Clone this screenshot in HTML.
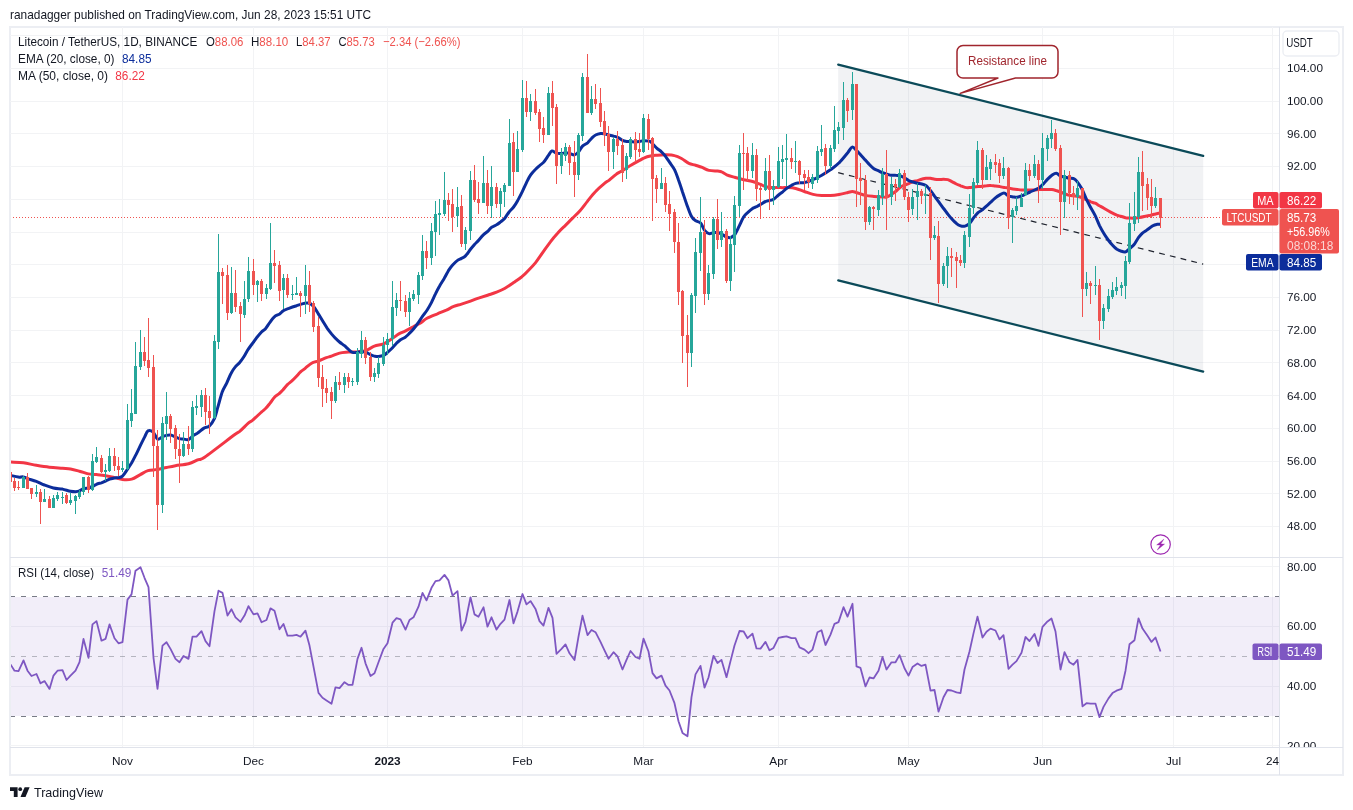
<!DOCTYPE html>
<html lang="en"><head><meta charset="utf-8"><title>LTCUSDT chart</title>
<style>html,body{margin:0;padding:0;background:#fff}body{width:1353px;height:810px;overflow:hidden}svg{display:block}text{font-family:"Liberation Sans", sans-serif}</style></head><body>
<svg width="1353" height="810" viewBox="0 0 1353 810">
<rect width="1353" height="810" fill="#fff"/>
<text x="10" y="18.9" font-size="13.4" fill="#131722" textLength="361" lengthAdjust="spacingAndGlyphs">ranadagger published on TradingView.com, Jun 28, 2023 15:51 UTC</text>
<rect x="10" y="27" width="1333" height="748" fill="#fff" stroke="#eceef3" stroke-width="2"/>
<defs><clipPath id="cm"><rect x="11" y="28" width="1268" height="529"/></clipPath><clipPath id="cr"><rect x="11" y="558" width="1268" height="189"/></clipPath><clipPath id="ca"><rect x="1280" y="28" width="62" height="529"/></clipPath><clipPath id="cb"><rect x="1280" y="558" width="62" height="189"/></clipPath></defs>
<g stroke="#f2f3f5" stroke-width="1" shape-rendering="crispEdges">
<line x1="10" x2="1279" y1="526.5" y2="526.5"/>
<line x1="10" x2="1279" y1="493.5" y2="493.5"/>
<line x1="10" x2="1279" y1="461.5" y2="461.5"/>
<line x1="10" x2="1279" y1="428.5" y2="428.5"/>
<line x1="10" x2="1279" y1="395.5" y2="395.5"/>
<line x1="10" x2="1279" y1="362.5" y2="362.5"/>
<line x1="10" x2="1279" y1="330.5" y2="330.5"/>
<line x1="10" x2="1279" y1="297.5" y2="297.5"/>
<line x1="10" x2="1279" y1="264.5" y2="264.5"/>
<line x1="10" x2="1279" y1="232.5" y2="232.5"/>
<line x1="10" x2="1279" y1="199.5" y2="199.5"/>
<line x1="10" x2="1279" y1="166.5" y2="166.5"/>
<line x1="10" x2="1279" y1="133.5" y2="133.5"/>
<line x1="10" x2="1279" y1="101.5" y2="101.5"/>
<line x1="10" x2="1279" y1="68.5" y2="68.5"/>
<line x1="10" x2="1279" y1="35.5" y2="35.5"/>
<line x1="10" x2="1279" y1="566.5" y2="566.5"/>
<line x1="10" x2="1279" y1="626.5" y2="626.5"/>
<line x1="10" x2="1279" y1="686.5" y2="686.5"/>
<line x1="10" x2="1279" y1="745.5" y2="745.5"/>
<line x1="122.5" x2="122.5" y1="27" y2="747"/>
<line x1="253.5" x2="253.5" y1="27" y2="747"/>
<line x1="387.5" x2="387.5" y1="27" y2="747"/>
<line x1="522.5" x2="522.5" y1="27" y2="747"/>
<line x1="643.5" x2="643.5" y1="27" y2="747"/>
<line x1="778.5" x2="778.5" y1="27" y2="747"/>
<line x1="908.5" x2="908.5" y1="27" y2="747"/>
<line x1="1042.5" x2="1042.5" y1="27" y2="747"/>
<line x1="1173.5" x2="1173.5" y1="27" y2="747"/>
<line x1="1272.5" x2="1272.5" y1="27" y2="747"/>
</g>
<g stroke="#e0e3eb" stroke-width="1" shape-rendering="crispEdges"><line x1="10" x2="1343" y1="557.5" y2="557.5"/><line x1="10" x2="1343" y1="747.5" y2="747.5"/><line x1="1279.5" x2="1279.5" y1="27" y2="775"/></g>
<g clip-path="url(#cm)">
<polygon points="838.2,64.6 1203.2,155.9 1203.2,371.6 838.2,280.4" fill="#787d91" fill-opacity="0.1"/>
<line x1="838.2" y1="172.7" x2="1203.2" y2="264.1" stroke="#1e222d" stroke-width="1.2" stroke-dasharray="5.8 5.23"/>
<line x1="10" x2="1279" y1="217.5" y2="217.5" stroke="#ef5350" stroke-width="1" stroke-dasharray="1 2" shape-rendering="crispEdges"/>
<path d="M8.0,461.9 C8.4,461.9 8.1,461.9 10.6,462.0 C13.2,462.2 19.1,462.2 23.4,462.8 C27.6,463.3 31.9,464.6 36.3,465.3 C40.6,466.0 44.9,466.7 49.3,467.2 C53.7,467.7 59.0,468.0 62.5,468.3 C66.0,468.6 67.6,468.5 70.5,469.0 C73.3,469.5 76.5,470.4 79.5,471.2 C82.5,472.0 85.6,473.3 88.4,473.9 C91.2,474.5 93.5,474.3 96.4,474.6 C99.3,474.9 102.6,475.2 105.6,475.7 C108.6,476.2 111.7,477.0 114.5,477.6 C117.3,478.2 119.6,479.3 122.5,479.5 C125.3,479.8 128.7,479.9 131.7,479.1 C134.6,478.3 137.5,476.0 140.3,474.6 C143.0,473.2 145.1,471.5 148.0,470.6 C150.9,469.8 154.5,470.0 157.6,469.4 C160.7,468.9 163.5,468.1 166.5,467.5 C169.4,466.9 171.7,466.4 175.4,465.7 C179.0,465.1 184.9,464.8 188.6,463.8 C192.3,462.8 194.9,461.0 197.6,459.8 C200.3,458.7 198.9,461.0 205.0,456.9 C211.1,452.7 228.3,439.3 234.1,435.0 C239.9,430.7 237.3,433.3 239.7,431.3 C242.1,429.3 246.1,425.0 248.3,423.1 C250.5,421.3 250.5,422.0 252.7,420.2 C254.9,418.3 259.3,414.0 261.5,412.0 C263.7,410.1 264.3,409.8 265.8,408.3 C267.2,406.9 268.6,405.0 270.1,403.1 C271.5,401.3 273.0,398.8 274.5,397.2 C276.0,395.6 277.9,394.8 279.3,393.5 C280.7,392.3 281.6,391.3 283.0,389.8 C284.3,388.3 285.9,386.1 287.4,384.6 C288.9,383.1 290.4,382.3 291.9,380.9 C293.3,379.6 294.9,378.0 296.3,376.5 C297.7,375.0 299.0,373.4 300.4,372.0 C301.9,370.7 303.7,369.6 305.2,368.3 C306.7,367.1 308.3,365.6 309.6,364.6 C311.0,363.6 311.9,363.0 313.3,362.4 C314.8,361.8 316.3,361.7 318.5,360.9 C320.7,360.1 324.3,358.4 326.4,357.6 C328.6,356.8 329.3,356.9 331.5,356.1 C333.7,355.4 336.6,353.8 339.5,353.1 C342.3,352.5 345.5,352.4 348.5,352.1 C351.5,351.9 354.6,351.9 357.4,351.7 C360.2,351.4 362.7,351.5 365.6,350.6 C368.4,349.7 371.5,347.3 374.4,346.2 C377.4,345.0 380.5,345.1 383.5,343.8 C386.5,342.5 390.0,340.0 392.5,338.3 C395.1,336.7 396.7,335.1 398.9,333.9 C401.1,332.7 403.1,332.2 405.6,330.9 C408.0,329.7 411.4,327.7 413.7,326.5 C416.0,325.2 417.4,324.9 419.6,323.5 C421.9,322.2 424.1,319.9 427.0,318.3 C430.0,316.7 434.2,315.2 437.4,313.9 C440.6,312.5 443.6,311.4 446.3,310.2 C449.0,308.9 451.3,307.4 453.8,306.4 C456.3,305.4 458.7,305.0 461.5,304.1 C464.3,303.2 467.7,302.1 470.5,301.1 C473.4,300.1 475.7,299.1 478.5,298.1 C481.4,297.2 484.5,296.2 487.6,295.2 C490.6,294.2 493.8,293.3 496.6,292.2 C499.4,291.1 501.8,290.1 504.6,288.5 C507.4,286.9 510.7,284.6 513.6,282.6 C516.5,280.6 519.5,278.6 521.9,276.7 C524.3,274.7 525.9,273.1 528.1,270.7 C530.4,268.4 533.1,265.7 535.6,262.6 C538.0,259.5 540.5,255.7 543.0,252.2 C545.4,248.8 547.9,245.1 550.4,241.9 C552.8,238.6 555.3,235.7 557.8,233.0 C560.2,230.2 562.7,228.0 565.2,225.6 C567.7,223.1 570.1,220.6 572.6,218.1 C575.1,215.7 577.5,213.6 580.0,210.7 C582.5,207.9 585.0,204.3 587.6,201.1 C590.1,197.9 592.7,194.4 595.6,191.5 C598.4,188.5 602.2,185.3 604.5,183.4 C606.9,181.4 607.6,181.4 609.6,179.8 C611.6,178.3 614.6,175.5 616.5,174.1 C618.5,172.7 618.9,172.7 621.3,171.3 C623.6,169.9 627.5,167.3 630.5,165.5 C633.6,163.7 637.2,161.7 639.6,160.4 C641.9,159.2 642.6,158.5 644.4,157.8 C646.2,157.0 648.4,156.4 650.4,156.0 C652.4,155.6 653.9,155.5 656.4,155.3 C659.0,155.1 662.5,154.8 665.5,154.8 C668.5,154.9 671.9,154.9 674.5,155.6 C677.2,156.2 679.1,157.2 681.5,158.5 C683.9,159.8 686.5,162.3 688.9,163.4 C691.2,164.5 693.3,164.5 695.6,165.2 C697.8,165.9 700.0,166.5 702.2,167.4 C704.4,168.3 706.3,169.8 708.9,170.4 C711.5,171.0 715.5,170.9 717.6,171.1 C719.8,171.4 720.1,171.2 721.6,171.9 C723.1,172.5 724.5,173.9 726.7,174.8 C728.8,175.7 731.9,176.5 734.7,177.3 C737.5,178.1 740.6,179.0 743.6,179.7 C746.5,180.4 749.8,180.7 752.6,181.5 C755.4,182.3 758.4,183.6 760.6,184.4 C762.8,185.3 763.5,186.1 765.6,186.7 C767.8,187.2 771.5,187.6 773.6,187.7 C775.7,187.8 776.8,187.5 778.3,187.5 C779.8,187.5 781.0,187.7 782.7,187.7 C784.3,187.7 786.1,187.3 788.3,187.5 C790.5,187.6 793.0,187.8 795.7,188.5 C798.4,189.2 801.5,190.5 804.4,191.5 C807.3,192.5 810.2,193.8 813.1,194.4 C816.0,195.1 818.9,195.3 821.8,195.4 C824.7,195.6 827.5,195.6 830.4,195.4 C833.3,195.3 836.2,194.9 839.1,194.4 C842.0,194.0 845.7,193.0 847.8,192.5 C850.0,192.0 850.7,191.5 852.2,191.5 C853.6,191.5 854.3,191.8 856.5,192.5 C858.7,193.1 862.3,194.8 865.2,195.4 C868.1,196.1 871.0,196.2 873.9,196.4 C876.8,196.7 880.4,196.9 882.6,197.0 C884.8,197.1 885.5,197.4 886.9,197.0 C888.4,196.6 889.8,195.4 891.3,194.4 C892.7,193.5 894.2,192.6 895.6,191.5 C897.1,190.3 898.5,188.6 900.0,187.5 C901.4,186.5 902.9,185.8 904.3,185.2 C905.8,184.5 907.2,184.2 908.7,183.6 C910.1,183.0 911.6,182.1 913.0,181.6 C914.5,181.1 915.9,181.0 917.4,180.6 C918.8,180.2 920.3,179.6 921.7,179.2 C923.2,178.8 924.6,178.4 926.0,178.2 C927.5,178.1 928.9,178.1 930.4,178.2 C931.8,178.4 933.3,179.0 934.7,179.2 C936.2,179.5 937.6,179.6 939.1,179.6 C940.5,179.6 942.0,179.2 943.4,179.2 C944.9,179.2 946.4,179.2 947.8,179.6 C949.2,180.0 950.5,180.9 951.9,181.6 C953.3,182.3 954.8,183.3 956.3,184.0 C957.7,184.7 959.2,185.2 960.6,185.8 C962.1,186.4 963.6,187.1 965.0,187.4 C966.5,187.7 967.9,187.7 969.4,187.6 C970.8,187.6 972.3,187.2 973.7,187.0 C975.2,186.9 976.6,186.8 978.0,186.6 C979.5,186.5 980.9,186.4 982.4,186.2 C983.8,186.1 985.3,185.8 986.7,185.7 C988.2,185.5 989.6,185.4 991.1,185.5 C992.5,185.5 994.0,185.9 995.4,186.0 C996.9,186.2 998.3,186.4 999.8,186.6 C1001.2,186.9 1002.7,187.2 1004.1,187.4 C1005.6,187.7 1007.0,187.8 1008.5,188.0 C1009.9,188.3 1011.4,188.8 1012.8,189.0 C1014.3,189.2 1015.7,189.2 1017.2,189.4 C1018.6,189.6 1020.1,189.9 1021.5,190.0 C1023.0,190.1 1024.4,190.0 1025.9,190.0 C1027.3,190.0 1028.7,190.0 1030.2,190.0 C1031.6,190.0 1033.1,190.1 1034.5,190.0 C1036.0,189.9 1037.4,189.7 1038.9,189.6 C1040.3,189.5 1041.8,189.4 1043.2,189.4 C1044.7,189.4 1046.1,189.4 1047.6,189.4 C1049.0,189.4 1050.5,189.4 1051.9,189.6 C1053.4,189.8 1054.8,190.2 1056.3,190.6 C1057.7,191.0 1059.2,191.4 1060.6,192.0 C1062.1,192.5 1063.5,193.4 1065.0,194.0 C1066.4,194.5 1067.9,195.0 1069.3,195.3 C1070.8,195.7 1072.2,195.7 1073.7,195.9 C1075.1,196.1 1076.6,196.2 1078.0,196.5 C1079.4,196.8 1080.9,197.3 1082.3,197.9 C1083.8,198.5 1085.3,199.2 1086.7,199.9 C1088.1,200.5 1089.4,201.3 1090.8,201.9 C1092.3,202.4 1093.7,202.6 1095.2,203.2 C1096.6,203.9 1098.1,205.0 1099.5,205.8 C1101.0,206.6 1102.4,207.3 1103.9,208.2 C1105.3,209.0 1106.8,209.9 1108.2,210.7 C1109.7,211.6 1111.1,212.4 1112.6,213.1 C1114.0,213.8 1115.4,214.5 1116.9,215.1 C1118.4,215.6 1120.2,216.1 1121.7,216.5 C1123.1,216.9 1124.3,217.4 1125.6,217.7 C1126.9,217.9 1128.3,217.9 1129.7,218.0 C1131.2,218.1 1132.8,218.2 1134.4,218.1 C1136.0,218.1 1137.7,217.8 1139.4,217.5 C1141.0,217.3 1142.7,216.9 1144.3,216.5 C1146.0,216.2 1147.6,215.9 1149.3,215.6 C1150.9,215.2 1152.4,214.8 1154.2,214.3 C1156.0,213.9 1159.1,213.2 1160.1,213.0" fill="none" stroke="#f23645" stroke-width="3" stroke-linejoin="round" stroke-linecap="butt"/>
<path d="M8.0,474.8 C8.4,474.9 8.9,475.0 10.6,475.4 C12.4,475.8 16.2,476.9 18.3,477.1 C20.5,477.4 21.8,476.6 23.4,476.9 C24.9,477.1 25.4,477.9 27.5,478.6 C29.7,479.4 33.4,480.2 36.3,481.3 C39.1,482.4 41.5,483.9 44.4,485.0 C47.3,486.1 50.4,487.3 53.4,488.0 C56.5,488.7 59.6,488.6 62.5,489.1 C65.3,489.7 68.3,490.8 70.5,491.2 C72.7,491.6 74.0,491.7 75.5,491.7 C77.0,491.6 78.2,491.4 79.5,490.9 C80.9,490.4 82.0,489.2 83.5,488.7 C85.0,488.2 86.9,488.3 88.4,488.0 C89.9,487.6 91.2,487.1 92.6,486.5 C93.9,485.9 94.9,484.9 96.4,484.3 C97.9,483.6 99.9,483.3 101.4,482.8 C103.0,482.2 104.2,481.6 105.6,481.0 C107.0,480.4 108.1,479.6 109.6,479.1 C111.1,478.6 113.0,478.3 114.5,478.0 C116.0,477.8 117.1,477.9 118.5,477.6 C119.8,477.3 121.0,477.5 122.5,476.1 C124.0,474.8 125.8,471.7 127.4,469.4 C128.9,467.2 130.2,465.2 131.7,462.8 C133.1,460.3 134.5,457.5 136.0,454.6 C137.4,451.8 138.8,448.7 140.3,445.7 C141.7,442.8 143.4,439.3 144.7,436.9 C146.0,434.4 146.6,431.7 148.0,430.9 C149.4,430.1 151.5,430.8 153.1,432.1 C154.8,433.5 156.1,438.3 157.6,439.1 C159.1,439.9 160.9,437.5 162.3,436.9 C163.8,436.2 165.1,435.7 166.5,435.4 C167.9,435.1 169.1,434.8 170.6,435.1 C172.1,435.3 173.9,436.3 175.4,436.9 C176.9,437.4 178.2,438.3 179.5,438.6 C180.9,439.0 182.0,438.9 183.5,439.1 C185.0,439.2 186.9,440.1 188.6,439.5 C190.2,438.9 191.8,436.6 193.3,435.6 C194.8,434.5 195.8,434.4 197.6,433.1 C199.4,431.9 202.0,429.3 204.0,428.1 C205.9,427.0 207.6,427.7 209.3,426.1 C211.1,424.5 212.9,421.9 214.4,418.7 C215.8,415.5 216.6,411.3 217.9,406.9 C219.2,402.4 220.8,396.0 222.2,392.0 C223.7,388.1 225.2,386.2 226.7,383.1 C228.1,380.1 229.5,376.2 231.0,373.5 C232.4,370.8 233.8,368.7 235.3,366.9 C236.7,365.0 238.2,364.1 239.7,362.4 C241.2,360.7 242.6,358.7 244.0,356.5 C245.4,354.3 246.8,351.3 248.3,349.1 C249.8,346.9 251.3,345.1 252.7,343.1 C254.2,341.2 255.6,339.1 257.0,337.2 C258.5,335.4 260.1,333.5 261.5,332.0 C262.9,330.6 264.1,330.3 265.5,328.7 C266.9,327.1 268.4,324.4 269.9,322.4 C271.3,320.4 272.7,318.3 274.3,316.9 C275.9,315.4 278.0,315.0 279.6,314.0 C281.1,312.9 282.0,311.5 283.6,310.6 C285.1,309.6 286.7,309.1 288.9,308.3 C291.1,307.5 294.4,306.4 296.6,305.7 C298.8,304.9 300.5,304.3 302.2,303.9 C303.9,303.5 305.3,303.2 306.7,303.1 C308.0,303.1 309.1,302.9 310.4,303.6 C311.6,304.3 312.9,305.7 314.3,307.4 C315.6,309.2 317.1,311.8 318.5,314.1 C319.9,316.4 321.3,318.8 322.7,321.1 C324.1,323.4 325.5,325.6 326.9,327.8 C328.4,329.9 330.1,332.1 331.5,333.9 C332.9,335.6 334.1,337.0 335.5,338.3 C336.8,339.7 338.0,340.8 339.5,342.0 C341.0,343.3 343.0,344.5 344.5,345.7 C346.0,347.0 347.2,348.3 348.5,349.4 C349.9,350.6 351.0,351.9 352.5,352.4 C354.0,352.9 355.9,352.5 357.4,352.4 C358.9,352.3 360.0,351.7 361.4,351.7 C362.8,351.6 364.0,351.6 365.6,352.1 C367.1,352.6 369.0,354.0 370.4,354.6 C371.9,355.3 373.1,355.8 374.4,356.1 C375.8,356.4 376.9,356.7 378.4,356.6 C380.0,356.4 382.0,356.1 383.5,355.4 C385.0,354.7 386.0,353.7 387.5,352.4 C389.0,351.1 391.0,349.2 392.5,347.7 C394.0,346.1 395.2,344.5 396.5,343.2 C397.9,341.9 399.0,340.9 400.5,339.8 C402.0,338.8 404.0,338.0 405.6,336.9 C407.1,335.7 408.2,334.5 409.6,333.1 C410.9,331.8 412.3,330.4 413.7,328.7 C415.1,327.0 416.7,324.9 418.1,322.8 C419.6,320.7 421.1,318.2 422.6,316.1 C424.1,314.0 425.6,312.4 427.0,310.2 C428.5,307.9 430.0,305.3 431.4,302.6 C432.8,299.8 434.2,296.5 435.6,293.7 C436.9,290.9 438.1,288.6 439.6,286.0 C441.0,283.4 443.0,280.7 444.4,278.1 C445.9,275.6 447.1,272.9 448.4,270.7 C449.8,268.6 450.9,267.0 452.4,265.3 C454.0,263.5 456.0,261.5 457.5,260.4 C459.0,259.2 460.1,259.2 461.5,258.4 C462.8,257.7 464.0,257.5 465.5,255.9 C467.0,254.4 469.0,251.2 470.5,249.3 C472.0,247.4 473.2,246.0 474.5,244.5 C475.9,243.0 477.0,242.0 478.5,240.4 C480.0,238.7 482.0,236.2 483.6,234.7 C485.1,233.3 486.2,232.7 487.6,231.5 C488.9,230.2 490.0,228.4 491.6,227.3 C493.1,226.2 495.1,225.7 496.6,224.8 C498.1,223.9 499.3,222.9 500.6,221.9 C501.9,220.8 503.2,220.0 504.6,218.4 C506.0,216.8 507.4,214.1 508.9,212.2 C510.4,210.3 512.1,209.0 513.6,207.0 C515.0,205.1 516.2,203.3 517.6,200.7 C519.1,198.2 520.7,194.9 522.2,191.9 C523.7,188.8 525.1,185.4 526.5,182.6 C527.9,179.8 529.0,177.4 530.5,175.2 C532.0,173.0 534.0,170.9 535.6,169.3 C537.1,167.7 538.2,166.7 539.6,165.6 C540.9,164.4 542.0,164.0 543.6,162.3 C545.1,160.6 547.2,157.1 548.6,155.2 C550.0,153.3 550.5,151.3 551.9,150.9 C553.2,150.6 554.9,152.7 556.5,153.1 C558.1,153.6 560.0,153.4 561.5,153.4 C563.0,153.3 564.1,152.8 565.5,152.8 C566.8,152.8 568.0,153.0 569.5,153.4 C571.0,153.7 573.0,155.1 574.5,154.9 C576.0,154.6 577.2,153.5 578.5,152.0 C579.9,150.6 581.0,147.7 582.5,146.1 C584.0,144.6 586.0,144.1 587.6,142.8 C589.1,141.5 590.2,139.6 591.6,138.3 C592.9,137.0 594.0,135.8 595.6,135.0 C597.1,134.2 599.1,133.7 600.6,133.5 C602.1,133.3 603.1,133.6 604.6,133.9 C606.1,134.2 608.1,134.9 609.6,135.2 C611.1,135.6 612.3,135.8 613.6,136.1 C615.0,136.5 616.1,136.6 617.6,137.3 C619.1,138.0 621.0,139.7 622.5,140.4 C624.0,141.1 625.3,141.3 626.7,141.5 C628.0,141.7 629.2,141.4 630.7,141.5 C632.1,141.6 634.1,141.9 635.6,141.9 C637.0,141.9 638.2,141.7 639.6,141.5 C640.9,141.3 641.9,140.8 643.6,140.7 C645.2,140.7 648.0,140.6 649.5,141.1 C651.0,141.6 651.4,142.5 652.6,143.7 C653.8,144.9 655.2,146.8 656.7,148.1 C658.1,149.5 660.0,150.5 661.5,151.9 C663.0,153.2 664.1,154.6 665.5,156.3 C666.8,158.0 668.0,160.0 669.5,162.2 C671.0,164.4 673.0,166.7 674.5,169.6 C676.0,172.6 677.2,176.3 678.5,180.0 C679.9,183.7 681.2,187.9 682.5,191.9 C683.9,195.8 685.0,199.6 686.5,203.7 C688.0,207.8 689.9,213.5 691.4,216.3 C692.9,219.1 694.0,219.6 695.6,220.7 C697.1,221.9 699.1,221.4 700.6,223.0 C702.1,224.6 703.2,228.6 704.6,230.4 C706.0,232.1 707.4,233.3 708.9,233.6 C710.4,234.0 712.2,232.8 713.6,232.6 C715.1,232.4 716.3,232.3 717.6,232.6 C719.0,232.8 720.1,233.3 721.6,234.1 C723.1,234.8 725.2,236.5 726.7,237.0 C728.2,237.6 729.3,237.9 730.7,237.5 C732.0,237.1 733.2,236.7 734.7,234.8 C736.1,232.9 737.8,228.9 739.3,225.9 C740.7,223.0 742.2,219.3 743.6,217.0 C744.9,214.8 746.0,214.0 747.6,212.6 C749.1,211.2 751.1,209.4 752.6,208.4 C754.1,207.5 755.3,207.3 756.6,206.7 C757.9,206.0 759.1,205.3 760.6,204.4 C762.1,203.6 764.1,202.1 765.6,201.5 C767.1,200.8 768.3,200.8 769.6,200.4 C771.0,200.1 772.2,200.2 773.6,199.3 C775.1,198.4 777.0,196.2 778.5,195.0 C780.0,193.8 781.3,193.0 782.7,191.9 C784.1,190.7 785.3,189.4 786.8,188.3 C788.3,187.2 790.2,186.0 791.7,185.2 C793.2,184.4 794.3,183.8 795.7,183.4 C797.1,183.0 798.6,182.8 800.0,182.7 C801.4,182.5 802.2,183.1 804.4,182.6 C806.5,182.1 810.2,180.8 813.1,179.6 C816.0,178.4 818.9,176.9 821.8,175.3 C824.7,173.6 827.5,171.8 830.4,169.8 C833.3,167.7 836.3,165.7 839.1,162.8 C842.0,160.0 845.5,155.4 847.7,152.8 C849.8,150.2 850.7,147.5 852.2,147.1 C853.7,146.7 855.1,149.1 856.5,150.4 C857.9,151.7 859.2,153.3 860.7,154.9 C862.1,156.5 863.7,158.2 865.2,159.9 C866.7,161.5 868.1,163.3 869.6,164.8 C871.0,166.3 872.5,167.8 873.9,168.8 C875.3,169.8 876.8,170.1 878.2,170.7 C879.7,171.4 881.1,172.2 882.6,172.7 C884.0,173.3 885.5,173.7 886.9,174.1 C888.4,174.5 889.8,175.1 891.3,175.3 C892.7,175.5 894.2,175.2 895.6,175.3 C897.1,175.3 898.5,175.3 900.0,175.7 C901.4,176.1 902.9,176.8 904.3,177.7 C905.8,178.5 907.2,179.9 908.7,180.6 C910.1,181.3 911.6,181.6 913.0,182.0 C914.5,182.4 915.9,182.9 917.4,183.2 C918.8,183.5 920.3,183.6 921.7,184.0 C923.2,184.4 924.6,184.5 926.0,185.6 C927.5,186.6 928.9,188.7 930.4,190.5 C931.8,192.3 933.3,194.4 934.7,196.4 C936.2,198.4 937.6,200.4 939.1,202.3 C940.5,204.3 942.0,206.3 943.4,208.3 C944.9,210.2 946.4,212.4 947.8,214.2 C949.2,216.0 950.5,217.6 951.9,219.1 C953.3,220.7 954.8,222.2 956.3,223.3 C957.7,224.5 959.2,225.4 960.6,225.9 C962.1,226.4 963.5,226.5 965.0,226.1 C966.4,225.7 967.9,225.0 969.4,223.6 C970.8,222.2 972.3,219.5 973.7,217.7 C975.2,215.8 976.6,214.0 978.0,212.7 C979.5,211.4 980.9,210.9 982.4,209.8 C983.8,208.6 985.3,207.1 986.7,205.8 C988.2,204.5 989.6,203.2 991.1,201.9 C992.5,200.5 994.0,199.1 995.4,197.9 C996.9,196.7 998.3,195.8 999.8,194.9 C1001.2,194.1 1002.7,192.8 1004.1,193.0 C1005.6,193.1 1007.0,195.3 1008.5,195.9 C1009.9,196.6 1011.4,196.7 1012.8,196.9 C1014.3,197.1 1015.7,197.5 1017.2,197.3 C1018.6,197.1 1020.1,196.5 1021.5,195.9 C1023.0,195.4 1024.4,194.6 1025.9,194.0 C1027.3,193.3 1028.7,192.6 1030.2,192.0 C1031.6,191.3 1033.1,190.7 1034.5,190.0 C1036.0,189.3 1037.4,189.0 1038.9,188.0 C1040.3,187.0 1041.8,185.6 1043.2,184.1 C1044.7,182.6 1046.1,180.6 1047.6,179.1 C1049.0,177.7 1050.5,176.2 1051.9,175.2 C1053.4,174.2 1054.8,173.0 1056.3,173.2 C1057.7,173.4 1059.2,175.5 1060.6,176.2 C1062.1,176.8 1063.5,176.8 1065.0,177.2 C1066.4,177.5 1067.6,177.8 1069.3,178.1 C1071.0,178.5 1073.0,177.7 1075.0,179.3 C1077.0,181.0 1079.4,184.6 1081.4,188.0 C1083.3,191.4 1085.1,196.6 1086.7,199.9 C1088.3,203.2 1089.4,205.1 1090.8,207.8 C1092.3,210.4 1093.7,212.7 1095.2,215.7 C1096.6,218.6 1098.1,222.6 1099.5,225.6 C1101.0,228.5 1102.4,231.1 1103.9,233.5 C1105.3,235.9 1106.8,238.0 1108.2,240.0 C1109.7,242.0 1111.1,243.8 1112.6,245.3 C1114.0,246.9 1115.5,248.3 1116.9,249.3 C1118.4,250.2 1119.8,250.8 1121.3,251.2 C1122.7,251.7 1124.2,252.3 1125.6,251.8 C1127.1,251.3 1128.5,249.5 1130.0,248.3 C1131.4,247.0 1132.8,246.1 1134.3,244.3 C1135.7,242.5 1137.3,239.3 1138.6,237.4 C1140.0,235.5 1141.1,234.4 1142.4,233.1 C1143.8,231.9 1145.0,231.4 1146.8,230.1 C1148.5,228.9 1151.2,226.6 1153.0,225.7 C1154.7,224.7 1155.9,224.6 1157.3,224.3 C1158.6,224.1 1160.4,224.2 1161.0,224.2" fill="none" stroke="#0c2d9b" stroke-width="3" stroke-linejoin="round" stroke-linecap="butt"/>
<g shape-rendering="crispEdges">
<rect x="10" y="468" width="1" height="14" fill="#ef5350"/>
<rect x="9" y="472" width="3" height="10" fill="#ef5350"/>
<rect x="14" y="478" width="1" height="13" fill="#ef5350"/>
<rect x="13" y="481" width="3" height="7" fill="#ef5350"/>
<rect x="18" y="481" width="1" height="9" fill="#ef5350"/>
<rect x="17" y="487" width="3" height="1" fill="#ef5350"/>
<rect x="23" y="476" width="1" height="12" fill="#26a69a"/>
<rect x="22" y="477" width="3" height="11" fill="#26a69a"/>
<rect x="27" y="473" width="1" height="16" fill="#ef5350"/>
<rect x="26" y="477" width="3" height="12" fill="#ef5350"/>
<rect x="31" y="488" width="1" height="11" fill="#ef5350"/>
<rect x="30" y="488" width="3" height="6" fill="#ef5350"/>
<rect x="36" y="485" width="1" height="12" fill="#26a69a"/>
<rect x="35" y="492" width="3" height="2" fill="#26a69a"/>
<rect x="40" y="489" width="1" height="35" fill="#ef5350"/>
<rect x="39" y="492" width="3" height="10" fill="#ef5350"/>
<rect x="44" y="489" width="1" height="13" fill="#26a69a"/>
<rect x="43" y="499" width="3" height="3" fill="#26a69a"/>
<rect x="49" y="496" width="1" height="12" fill="#ef5350"/>
<rect x="48" y="499" width="3" height="9" fill="#ef5350"/>
<rect x="53" y="495" width="1" height="13" fill="#26a69a"/>
<rect x="52" y="498" width="3" height="10" fill="#26a69a"/>
<rect x="57" y="492" width="1" height="9" fill="#26a69a"/>
<rect x="56" y="495" width="3" height="4" fill="#26a69a"/>
<rect x="62" y="492" width="1" height="12" fill="#26a69a"/>
<rect x="61" y="497" width="3" height="1" fill="#26a69a"/>
<rect x="66" y="493" width="1" height="11" fill="#ef5350"/>
<rect x="65" y="495" width="3" height="8" fill="#ef5350"/>
<rect x="70" y="493" width="1" height="12" fill="#26a69a"/>
<rect x="69" y="500" width="3" height="3" fill="#26a69a"/>
<rect x="75" y="495" width="1" height="19" fill="#26a69a"/>
<rect x="74" y="496" width="3" height="5" fill="#26a69a"/>
<rect x="79" y="490" width="1" height="9" fill="#26a69a"/>
<rect x="78" y="492" width="3" height="5" fill="#26a69a"/>
<rect x="83" y="477" width="1" height="18" fill="#26a69a"/>
<rect x="82" y="477" width="3" height="15" fill="#26a69a"/>
<rect x="88" y="476" width="1" height="17" fill="#ef5350"/>
<rect x="87" y="477" width="3" height="13" fill="#ef5350"/>
<rect x="92" y="454" width="1" height="37" fill="#26a69a"/>
<rect x="91" y="461" width="3" height="29" fill="#26a69a"/>
<rect x="96" y="447" width="1" height="16" fill="#26a69a"/>
<rect x="95" y="457" width="3" height="5" fill="#26a69a"/>
<rect x="101" y="455" width="1" height="18" fill="#ef5350"/>
<rect x="100" y="458" width="3" height="14" fill="#ef5350"/>
<rect x="105" y="464" width="1" height="17" fill="#26a69a"/>
<rect x="104" y="470" width="3" height="2" fill="#26a69a"/>
<rect x="109" y="448" width="1" height="24" fill="#26a69a"/>
<rect x="108" y="456" width="3" height="15" fill="#26a69a"/>
<rect x="114" y="448" width="1" height="23" fill="#ef5350"/>
<rect x="113" y="456" width="3" height="10" fill="#ef5350"/>
<rect x="118" y="457" width="1" height="19" fill="#ef5350"/>
<rect x="117" y="466" width="3" height="4" fill="#ef5350"/>
<rect x="122" y="461" width="1" height="11" fill="#26a69a"/>
<rect x="121" y="468" width="3" height="2" fill="#26a69a"/>
<rect x="127" y="404" width="1" height="66" fill="#26a69a"/>
<rect x="126" y="420" width="3" height="49" fill="#26a69a"/>
<rect x="131" y="389" width="1" height="38" fill="#26a69a"/>
<rect x="130" y="413" width="3" height="8" fill="#26a69a"/>
<rect x="135" y="342" width="1" height="72" fill="#26a69a"/>
<rect x="134" y="366" width="3" height="48" fill="#26a69a"/>
<rect x="140" y="330" width="1" height="40" fill="#26a69a"/>
<rect x="139" y="352" width="3" height="15" fill="#26a69a"/>
<rect x="144" y="337" width="1" height="29" fill="#ef5350"/>
<rect x="143" y="352" width="3" height="9" fill="#ef5350"/>
<rect x="148" y="318" width="1" height="59" fill="#ef5350"/>
<rect x="147" y="360" width="3" height="8" fill="#ef5350"/>
<rect x="153" y="355" width="1" height="122" fill="#ef5350"/>
<rect x="152" y="367" width="3" height="79" fill="#ef5350"/>
<rect x="157" y="430" width="1" height="100" fill="#ef5350"/>
<rect x="156" y="446" width="3" height="59" fill="#ef5350"/>
<rect x="162" y="417" width="1" height="96" fill="#26a69a"/>
<rect x="161" y="423" width="3" height="82" fill="#26a69a"/>
<rect x="166" y="392" width="1" height="48" fill="#26a69a"/>
<rect x="165" y="416" width="3" height="8" fill="#26a69a"/>
<rect x="170" y="414" width="1" height="29" fill="#ef5350"/>
<rect x="169" y="416" width="3" height="13" fill="#ef5350"/>
<rect x="175" y="425" width="1" height="34" fill="#ef5350"/>
<rect x="174" y="428" width="3" height="21" fill="#ef5350"/>
<rect x="179" y="434" width="1" height="49" fill="#ef5350"/>
<rect x="178" y="449" width="3" height="7" fill="#ef5350"/>
<rect x="183" y="432" width="1" height="25" fill="#26a69a"/>
<rect x="182" y="444" width="3" height="12" fill="#26a69a"/>
<rect x="188" y="426" width="1" height="29" fill="#ef5350"/>
<rect x="187" y="444" width="3" height="5" fill="#ef5350"/>
<rect x="192" y="401" width="1" height="51" fill="#26a69a"/>
<rect x="191" y="407" width="3" height="42" fill="#26a69a"/>
<rect x="196" y="395" width="1" height="20" fill="#26a69a"/>
<rect x="195" y="406" width="3" height="2" fill="#26a69a"/>
<rect x="201" y="390" width="1" height="27" fill="#26a69a"/>
<rect x="200" y="395" width="3" height="12" fill="#26a69a"/>
<rect x="205" y="388" width="1" height="37" fill="#ef5350"/>
<rect x="204" y="395" width="3" height="17" fill="#ef5350"/>
<rect x="209" y="396" width="1" height="38" fill="#ef5350"/>
<rect x="208" y="411" width="3" height="7" fill="#ef5350"/>
<rect x="214" y="335" width="1" height="84" fill="#26a69a"/>
<rect x="213" y="341" width="3" height="77" fill="#26a69a"/>
<rect x="218" y="234" width="1" height="115" fill="#26a69a"/>
<rect x="217" y="272" width="3" height="70" fill="#26a69a"/>
<rect x="222" y="268" width="1" height="36" fill="#ef5350"/>
<rect x="221" y="272" width="3" height="4" fill="#ef5350"/>
<rect x="227" y="265" width="1" height="55" fill="#ef5350"/>
<rect x="226" y="275" width="3" height="38" fill="#ef5350"/>
<rect x="231" y="267" width="1" height="47" fill="#26a69a"/>
<rect x="230" y="293" width="3" height="20" fill="#26a69a"/>
<rect x="235" y="270" width="1" height="42" fill="#ef5350"/>
<rect x="234" y="293" width="3" height="14" fill="#ef5350"/>
<rect x="240" y="302" width="1" height="40" fill="#ef5350"/>
<rect x="239" y="306" width="3" height="8" fill="#ef5350"/>
<rect x="244" y="281" width="1" height="37" fill="#26a69a"/>
<rect x="243" y="299" width="3" height="16" fill="#26a69a"/>
<rect x="248" y="257" width="1" height="45" fill="#26a69a"/>
<rect x="247" y="271" width="3" height="28" fill="#26a69a"/>
<rect x="253" y="259" width="1" height="36" fill="#ef5350"/>
<rect x="252" y="271" width="3" height="14" fill="#ef5350"/>
<rect x="257" y="280" width="1" height="22" fill="#26a69a"/>
<rect x="256" y="281" width="3" height="4" fill="#26a69a"/>
<rect x="261" y="279" width="1" height="22" fill="#ef5350"/>
<rect x="260" y="281" width="3" height="13" fill="#ef5350"/>
<rect x="266" y="284" width="1" height="15" fill="#26a69a"/>
<rect x="265" y="288" width="3" height="6" fill="#26a69a"/>
<rect x="270" y="223" width="1" height="67" fill="#26a69a"/>
<rect x="269" y="263" width="3" height="26" fill="#26a69a"/>
<rect x="274" y="250" width="1" height="33" fill="#ef5350"/>
<rect x="273" y="263" width="3" height="3" fill="#ef5350"/>
<rect x="279" y="261" width="1" height="40" fill="#ef5350"/>
<rect x="278" y="265" width="3" height="26" fill="#ef5350"/>
<rect x="283" y="274" width="1" height="35" fill="#26a69a"/>
<rect x="282" y="278" width="3" height="12" fill="#26a69a"/>
<rect x="287" y="274" width="1" height="24" fill="#ef5350"/>
<rect x="286" y="278" width="3" height="17" fill="#ef5350"/>
<rect x="292" y="285" width="1" height="15" fill="#26a69a"/>
<rect x="291" y="294" width="3" height="1" fill="#26a69a"/>
<rect x="296" y="277" width="1" height="18" fill="#26a69a"/>
<rect x="295" y="293" width="3" height="2" fill="#26a69a"/>
<rect x="300" y="291" width="1" height="26" fill="#ef5350"/>
<rect x="299" y="293" width="3" height="3" fill="#ef5350"/>
<rect x="305" y="265" width="1" height="49" fill="#26a69a"/>
<rect x="304" y="285" width="3" height="11" fill="#26a69a"/>
<rect x="309" y="271" width="1" height="41" fill="#ef5350"/>
<rect x="308" y="285" width="3" height="19" fill="#ef5350"/>
<rect x="313" y="301" width="1" height="31" fill="#ef5350"/>
<rect x="312" y="303" width="3" height="24" fill="#ef5350"/>
<rect x="318" y="317" width="1" height="70" fill="#ef5350"/>
<rect x="317" y="326" width="3" height="52" fill="#ef5350"/>
<rect x="322" y="365" width="1" height="42" fill="#ef5350"/>
<rect x="321" y="377" width="3" height="12" fill="#ef5350"/>
<rect x="326" y="379" width="1" height="24" fill="#ef5350"/>
<rect x="325" y="388" width="3" height="5" fill="#ef5350"/>
<rect x="331" y="387" width="1" height="32" fill="#ef5350"/>
<rect x="330" y="392" width="3" height="9" fill="#ef5350"/>
<rect x="335" y="376" width="1" height="27" fill="#26a69a"/>
<rect x="334" y="382" width="3" height="19" fill="#26a69a"/>
<rect x="339" y="372" width="1" height="18" fill="#ef5350"/>
<rect x="338" y="382" width="3" height="3" fill="#ef5350"/>
<rect x="344" y="373" width="1" height="20" fill="#26a69a"/>
<rect x="343" y="377" width="3" height="8" fill="#26a69a"/>
<rect x="348" y="373" width="1" height="15" fill="#ef5350"/>
<rect x="347" y="377" width="3" height="5" fill="#ef5350"/>
<rect x="352" y="378" width="1" height="8" fill="#26a69a"/>
<rect x="351" y="381" width="3" height="1" fill="#26a69a"/>
<rect x="357" y="348" width="1" height="37" fill="#26a69a"/>
<rect x="356" y="352" width="3" height="30" fill="#26a69a"/>
<rect x="361" y="331" width="1" height="27" fill="#26a69a"/>
<rect x="360" y="340" width="3" height="14" fill="#26a69a"/>
<rect x="365" y="337" width="1" height="27" fill="#ef5350"/>
<rect x="364" y="340" width="3" height="18" fill="#ef5350"/>
<rect x="370" y="352" width="1" height="29" fill="#ef5350"/>
<rect x="369" y="357" width="3" height="20" fill="#ef5350"/>
<rect x="374" y="368" width="1" height="14" fill="#26a69a"/>
<rect x="373" y="373" width="3" height="4" fill="#26a69a"/>
<rect x="378" y="357" width="1" height="21" fill="#26a69a"/>
<rect x="377" y="363" width="3" height="11" fill="#26a69a"/>
<rect x="383" y="337" width="1" height="29" fill="#26a69a"/>
<rect x="382" y="345" width="3" height="19" fill="#26a69a"/>
<rect x="387" y="333" width="1" height="22" fill="#26a69a"/>
<rect x="386" y="339" width="3" height="6" fill="#26a69a"/>
<rect x="392" y="281" width="1" height="65" fill="#26a69a"/>
<rect x="391" y="307" width="3" height="32" fill="#26a69a"/>
<rect x="396" y="293" width="1" height="23" fill="#26a69a"/>
<rect x="395" y="300" width="3" height="8" fill="#26a69a"/>
<rect x="400" y="281" width="1" height="30" fill="#ef5350"/>
<rect x="399" y="300" width="3" height="1" fill="#ef5350"/>
<rect x="405" y="295" width="1" height="22" fill="#ef5350"/>
<rect x="404" y="301" width="3" height="11" fill="#ef5350"/>
<rect x="409" y="292" width="1" height="34" fill="#26a69a"/>
<rect x="408" y="298" width="3" height="14" fill="#26a69a"/>
<rect x="413" y="290" width="1" height="11" fill="#26a69a"/>
<rect x="412" y="294" width="3" height="5" fill="#26a69a"/>
<rect x="418" y="272" width="1" height="32" fill="#26a69a"/>
<rect x="417" y="275" width="3" height="20" fill="#26a69a"/>
<rect x="422" y="235" width="1" height="45" fill="#26a69a"/>
<rect x="421" y="251" width="3" height="25" fill="#26a69a"/>
<rect x="426" y="241" width="1" height="28" fill="#ef5350"/>
<rect x="425" y="251" width="3" height="7" fill="#ef5350"/>
<rect x="431" y="223" width="1" height="42" fill="#26a69a"/>
<rect x="430" y="231" width="3" height="27" fill="#26a69a"/>
<rect x="435" y="201" width="1" height="55" fill="#26a69a"/>
<rect x="434" y="214" width="3" height="18" fill="#26a69a"/>
<rect x="439" y="199" width="1" height="36" fill="#26a69a"/>
<rect x="438" y="213" width="3" height="2" fill="#26a69a"/>
<rect x="444" y="172" width="1" height="44" fill="#26a69a"/>
<rect x="443" y="200" width="3" height="14" fill="#26a69a"/>
<rect x="448" y="193" width="1" height="28" fill="#ef5350"/>
<rect x="447" y="200" width="3" height="5" fill="#ef5350"/>
<rect x="452" y="189" width="1" height="43" fill="#ef5350"/>
<rect x="451" y="204" width="3" height="13" fill="#ef5350"/>
<rect x="457" y="187" width="1" height="40" fill="#26a69a"/>
<rect x="456" y="207" width="3" height="9" fill="#26a69a"/>
<rect x="461" y="195" width="1" height="52" fill="#ef5350"/>
<rect x="460" y="206" width="3" height="38" fill="#ef5350"/>
<rect x="465" y="227" width="1" height="23" fill="#26a69a"/>
<rect x="464" y="230" width="3" height="14" fill="#26a69a"/>
<rect x="470" y="171" width="1" height="69" fill="#26a69a"/>
<rect x="469" y="180" width="3" height="51" fill="#26a69a"/>
<rect x="474" y="165" width="1" height="37" fill="#ef5350"/>
<rect x="473" y="180" width="3" height="20" fill="#ef5350"/>
<rect x="478" y="182" width="1" height="32" fill="#ef5350"/>
<rect x="477" y="199" width="3" height="4" fill="#ef5350"/>
<rect x="483" y="156" width="1" height="47" fill="#26a69a"/>
<rect x="482" y="183" width="3" height="20" fill="#26a69a"/>
<rect x="487" y="170" width="1" height="44" fill="#ef5350"/>
<rect x="486" y="183" width="3" height="23" fill="#ef5350"/>
<rect x="491" y="166" width="1" height="52" fill="#26a69a"/>
<rect x="490" y="187" width="3" height="19" fill="#26a69a"/>
<rect x="496" y="183" width="1" height="25" fill="#ef5350"/>
<rect x="495" y="187" width="3" height="17" fill="#ef5350"/>
<rect x="500" y="188" width="1" height="29" fill="#26a69a"/>
<rect x="499" y="191" width="3" height="13" fill="#26a69a"/>
<rect x="504" y="183" width="1" height="24" fill="#26a69a"/>
<rect x="503" y="185" width="3" height="7" fill="#26a69a"/>
<rect x="509" y="119" width="1" height="67" fill="#26a69a"/>
<rect x="508" y="143" width="3" height="43" fill="#26a69a"/>
<rect x="513" y="133" width="1" height="63" fill="#ef5350"/>
<rect x="512" y="142" width="3" height="30" fill="#ef5350"/>
<rect x="517" y="131" width="1" height="41" fill="#26a69a"/>
<rect x="516" y="149" width="3" height="23" fill="#26a69a"/>
<rect x="522" y="80" width="1" height="72" fill="#26a69a"/>
<rect x="521" y="98" width="3" height="52" fill="#26a69a"/>
<rect x="526" y="81" width="1" height="36" fill="#ef5350"/>
<rect x="525" y="98" width="3" height="14" fill="#ef5350"/>
<rect x="530" y="94" width="1" height="27" fill="#26a69a"/>
<rect x="529" y="101" width="3" height="11" fill="#26a69a"/>
<rect x="535" y="89" width="1" height="26" fill="#ef5350"/>
<rect x="534" y="101" width="3" height="12" fill="#ef5350"/>
<rect x="539" y="109" width="1" height="33" fill="#ef5350"/>
<rect x="538" y="112" width="3" height="17" fill="#ef5350"/>
<rect x="543" y="117" width="1" height="26" fill="#ef5350"/>
<rect x="542" y="128" width="3" height="7" fill="#ef5350"/>
<rect x="548" y="87" width="1" height="48" fill="#26a69a"/>
<rect x="547" y="93" width="3" height="42" fill="#26a69a"/>
<rect x="552" y="81" width="1" height="45" fill="#ef5350"/>
<rect x="551" y="93" width="3" height="15" fill="#ef5350"/>
<rect x="556" y="104" width="1" height="80" fill="#ef5350"/>
<rect x="555" y="107" width="3" height="59" fill="#ef5350"/>
<rect x="561" y="148" width="1" height="26" fill="#26a69a"/>
<rect x="560" y="153" width="3" height="13" fill="#26a69a"/>
<rect x="565" y="143" width="1" height="18" fill="#26a69a"/>
<rect x="564" y="147" width="3" height="9" fill="#26a69a"/>
<rect x="569" y="145" width="1" height="30" fill="#ef5350"/>
<rect x="568" y="147" width="3" height="16" fill="#ef5350"/>
<rect x="574" y="141" width="1" height="56" fill="#ef5350"/>
<rect x="573" y="162" width="3" height="13" fill="#ef5350"/>
<rect x="578" y="133" width="1" height="47" fill="#26a69a"/>
<rect x="577" y="135" width="3" height="40" fill="#26a69a"/>
<rect x="582" y="73" width="1" height="68" fill="#26a69a"/>
<rect x="581" y="77" width="3" height="59" fill="#26a69a"/>
<rect x="587" y="54" width="1" height="59" fill="#ef5350"/>
<rect x="586" y="77" width="3" height="36" fill="#ef5350"/>
<rect x="591" y="86" width="1" height="29" fill="#26a69a"/>
<rect x="590" y="99" width="3" height="14" fill="#26a69a"/>
<rect x="595" y="84" width="1" height="25" fill="#ef5350"/>
<rect x="594" y="99" width="3" height="5" fill="#ef5350"/>
<rect x="600" y="88" width="1" height="39" fill="#ef5350"/>
<rect x="599" y="103" width="3" height="19" fill="#ef5350"/>
<rect x="604" y="111" width="1" height="35" fill="#ef5350"/>
<rect x="603" y="121" width="3" height="14" fill="#ef5350"/>
<rect x="608" y="126" width="1" height="45" fill="#ef5350"/>
<rect x="607" y="134" width="3" height="18" fill="#ef5350"/>
<rect x="613" y="137" width="1" height="32" fill="#26a69a"/>
<rect x="612" y="139" width="3" height="13" fill="#26a69a"/>
<rect x="617" y="131" width="1" height="24" fill="#ef5350"/>
<rect x="616" y="139" width="3" height="7" fill="#ef5350"/>
<rect x="622" y="139" width="1" height="43" fill="#ef5350"/>
<rect x="621" y="145" width="3" height="28" fill="#ef5350"/>
<rect x="626" y="153" width="1" height="26" fill="#26a69a"/>
<rect x="625" y="156" width="3" height="14" fill="#26a69a"/>
<rect x="630" y="137" width="1" height="22" fill="#26a69a"/>
<rect x="629" y="139" width="3" height="18" fill="#26a69a"/>
<rect x="635" y="132" width="1" height="30" fill="#ef5350"/>
<rect x="634" y="139" width="3" height="11" fill="#ef5350"/>
<rect x="639" y="133" width="1" height="24" fill="#ef5350"/>
<rect x="638" y="149" width="3" height="3" fill="#ef5350"/>
<rect x="643" y="114" width="1" height="39" fill="#26a69a"/>
<rect x="642" y="118" width="3" height="34" fill="#26a69a"/>
<rect x="648" y="114" width="1" height="36" fill="#ef5350"/>
<rect x="647" y="119" width="3" height="20" fill="#ef5350"/>
<rect x="652" y="137" width="1" height="84" fill="#ef5350"/>
<rect x="651" y="138" width="3" height="41" fill="#ef5350"/>
<rect x="656" y="175" width="1" height="28" fill="#ef5350"/>
<rect x="655" y="178" width="3" height="11" fill="#ef5350"/>
<rect x="661" y="168" width="1" height="21" fill="#26a69a"/>
<rect x="660" y="183" width="3" height="6" fill="#26a69a"/>
<rect x="665" y="177" width="1" height="35" fill="#ef5350"/>
<rect x="664" y="183" width="3" height="22" fill="#ef5350"/>
<rect x="669" y="191" width="1" height="40" fill="#ef5350"/>
<rect x="668" y="204" width="3" height="10" fill="#ef5350"/>
<rect x="674" y="209" width="1" height="44" fill="#ef5350"/>
<rect x="673" y="212" width="3" height="30" fill="#ef5350"/>
<rect x="678" y="223" width="1" height="82" fill="#ef5350"/>
<rect x="677" y="242" width="3" height="50" fill="#ef5350"/>
<rect x="682" y="290" width="1" height="73" fill="#ef5350"/>
<rect x="681" y="291" width="3" height="45" fill="#ef5350"/>
<rect x="687" y="315" width="1" height="72" fill="#ef5350"/>
<rect x="686" y="335" width="3" height="18" fill="#ef5350"/>
<rect x="691" y="293" width="1" height="74" fill="#26a69a"/>
<rect x="690" y="295" width="3" height="58" fill="#26a69a"/>
<rect x="695" y="238" width="1" height="75" fill="#26a69a"/>
<rect x="694" y="252" width="3" height="44" fill="#26a69a"/>
<rect x="700" y="197" width="1" height="74" fill="#26a69a"/>
<rect x="699" y="232" width="3" height="21" fill="#26a69a"/>
<rect x="704" y="220" width="1" height="85" fill="#ef5350"/>
<rect x="703" y="232" width="3" height="62" fill="#ef5350"/>
<rect x="708" y="265" width="1" height="35" fill="#26a69a"/>
<rect x="707" y="273" width="3" height="21" fill="#26a69a"/>
<rect x="713" y="217" width="1" height="62" fill="#26a69a"/>
<rect x="712" y="219" width="3" height="55" fill="#26a69a"/>
<rect x="717" y="199" width="1" height="50" fill="#ef5350"/>
<rect x="716" y="219" width="3" height="21" fill="#ef5350"/>
<rect x="721" y="212" width="1" height="35" fill="#26a69a"/>
<rect x="720" y="231" width="3" height="9" fill="#26a69a"/>
<rect x="726" y="229" width="1" height="54" fill="#ef5350"/>
<rect x="725" y="231" width="3" height="50" fill="#ef5350"/>
<rect x="730" y="236" width="1" height="55" fill="#26a69a"/>
<rect x="729" y="244" width="3" height="37" fill="#26a69a"/>
<rect x="734" y="196" width="1" height="76" fill="#26a69a"/>
<rect x="733" y="205" width="3" height="40" fill="#26a69a"/>
<rect x="739" y="145" width="1" height="72" fill="#26a69a"/>
<rect x="738" y="153" width="3" height="53" fill="#26a69a"/>
<rect x="743" y="133" width="1" height="57" fill="#ef5350"/>
<rect x="742" y="153" width="3" height="1" fill="#ef5350"/>
<rect x="747" y="147" width="1" height="34" fill="#ef5350"/>
<rect x="746" y="153" width="3" height="18" fill="#ef5350"/>
<rect x="752" y="143" width="1" height="35" fill="#26a69a"/>
<rect x="751" y="155" width="3" height="16" fill="#26a69a"/>
<rect x="756" y="149" width="1" height="52" fill="#ef5350"/>
<rect x="755" y="155" width="3" height="34" fill="#ef5350"/>
<rect x="760" y="186" width="1" height="33" fill="#ef5350"/>
<rect x="759" y="188" width="3" height="2" fill="#ef5350"/>
<rect x="765" y="158" width="1" height="33" fill="#26a69a"/>
<rect x="764" y="171" width="3" height="19" fill="#26a69a"/>
<rect x="769" y="155" width="1" height="55" fill="#ef5350"/>
<rect x="768" y="171" width="3" height="19" fill="#ef5350"/>
<rect x="773" y="180" width="1" height="25" fill="#26a69a"/>
<rect x="772" y="186" width="3" height="4" fill="#26a69a"/>
<rect x="778" y="147" width="1" height="41" fill="#26a69a"/>
<rect x="777" y="161" width="3" height="26" fill="#26a69a"/>
<rect x="782" y="145" width="1" height="34" fill="#26a69a"/>
<rect x="781" y="159" width="3" height="3" fill="#26a69a"/>
<rect x="786" y="134" width="1" height="52" fill="#26a69a"/>
<rect x="785" y="158" width="3" height="2" fill="#26a69a"/>
<rect x="791" y="148" width="1" height="21" fill="#ef5350"/>
<rect x="790" y="158" width="3" height="4" fill="#ef5350"/>
<rect x="795" y="141" width="1" height="32" fill="#26a69a"/>
<rect x="794" y="161" width="3" height="1" fill="#26a69a"/>
<rect x="799" y="160" width="1" height="24" fill="#ef5350"/>
<rect x="798" y="161" width="3" height="14" fill="#ef5350"/>
<rect x="804" y="170" width="1" height="20" fill="#ef5350"/>
<rect x="803" y="174" width="3" height="4" fill="#ef5350"/>
<rect x="808" y="170" width="1" height="18" fill="#ef5350"/>
<rect x="807" y="177" width="3" height="5" fill="#ef5350"/>
<rect x="812" y="174" width="1" height="15" fill="#26a69a"/>
<rect x="811" y="177" width="3" height="7" fill="#26a69a"/>
<rect x="817" y="146" width="1" height="37" fill="#26a69a"/>
<rect x="816" y="151" width="3" height="29" fill="#26a69a"/>
<rect x="821" y="125" width="1" height="31" fill="#26a69a"/>
<rect x="820" y="149" width="3" height="3" fill="#26a69a"/>
<rect x="825" y="144" width="1" height="31" fill="#ef5350"/>
<rect x="824" y="148" width="3" height="18" fill="#ef5350"/>
<rect x="830" y="145" width="1" height="24" fill="#26a69a"/>
<rect x="829" y="148" width="3" height="18" fill="#26a69a"/>
<rect x="834" y="106" width="1" height="46" fill="#26a69a"/>
<rect x="833" y="130" width="3" height="19" fill="#26a69a"/>
<rect x="838" y="122" width="1" height="22" fill="#26a69a"/>
<rect x="837" y="127" width="3" height="4" fill="#26a69a"/>
<rect x="843" y="82" width="1" height="58" fill="#26a69a"/>
<rect x="842" y="100" width="3" height="28" fill="#26a69a"/>
<rect x="847" y="98" width="1" height="24" fill="#ef5350"/>
<rect x="846" y="100" width="3" height="11" fill="#ef5350"/>
<rect x="852" y="72" width="1" height="48" fill="#26a69a"/>
<rect x="851" y="84" width="3" height="26" fill="#26a69a"/>
<rect x="856" y="84" width="1" height="123" fill="#ef5350"/>
<rect x="855" y="84" width="3" height="95" fill="#ef5350"/>
<rect x="860" y="163" width="1" height="42" fill="#ef5350"/>
<rect x="859" y="178" width="3" height="3" fill="#ef5350"/>
<rect x="865" y="175" width="1" height="55" fill="#ef5350"/>
<rect x="864" y="180" width="3" height="42" fill="#ef5350"/>
<rect x="869" y="206" width="1" height="19" fill="#26a69a"/>
<rect x="868" y="207" width="3" height="15" fill="#26a69a"/>
<rect x="873" y="206" width="1" height="24" fill="#ef5350"/>
<rect x="872" y="207" width="3" height="2" fill="#ef5350"/>
<rect x="878" y="190" width="1" height="26" fill="#26a69a"/>
<rect x="877" y="195" width="3" height="15" fill="#26a69a"/>
<rect x="882" y="168" width="1" height="37" fill="#26a69a"/>
<rect x="881" y="174" width="3" height="23" fill="#26a69a"/>
<rect x="886" y="150" width="1" height="80" fill="#ef5350"/>
<rect x="885" y="174" width="3" height="24" fill="#ef5350"/>
<rect x="891" y="177" width="1" height="28" fill="#26a69a"/>
<rect x="890" y="184" width="3" height="13" fill="#26a69a"/>
<rect x="895" y="179" width="1" height="22" fill="#ef5350"/>
<rect x="894" y="184" width="3" height="3" fill="#ef5350"/>
<rect x="899" y="169" width="1" height="19" fill="#26a69a"/>
<rect x="898" y="173" width="3" height="14" fill="#26a69a"/>
<rect x="904" y="170" width="1" height="30" fill="#ef5350"/>
<rect x="903" y="173" width="3" height="24" fill="#ef5350"/>
<rect x="908" y="192" width="1" height="30" fill="#ef5350"/>
<rect x="907" y="197" width="3" height="13" fill="#ef5350"/>
<rect x="912" y="189" width="1" height="26" fill="#26a69a"/>
<rect x="911" y="197" width="3" height="12" fill="#26a69a"/>
<rect x="917" y="183" width="1" height="37" fill="#26a69a"/>
<rect x="916" y="191" width="3" height="6" fill="#26a69a"/>
<rect x="921" y="189" width="1" height="15" fill="#ef5350"/>
<rect x="920" y="191" width="3" height="5" fill="#ef5350"/>
<rect x="925" y="185" width="1" height="29" fill="#26a69a"/>
<rect x="924" y="194" width="3" height="2" fill="#26a69a"/>
<rect x="930" y="187" width="1" height="73" fill="#ef5350"/>
<rect x="929" y="193" width="3" height="45" fill="#ef5350"/>
<rect x="934" y="226" width="1" height="14" fill="#26a69a"/>
<rect x="933" y="235" width="3" height="3" fill="#26a69a"/>
<rect x="938" y="221" width="1" height="82" fill="#ef5350"/>
<rect x="937" y="236" width="3" height="48" fill="#ef5350"/>
<rect x="943" y="263" width="1" height="23" fill="#26a69a"/>
<rect x="942" y="266" width="3" height="18" fill="#26a69a"/>
<rect x="947" y="247" width="1" height="41" fill="#26a69a"/>
<rect x="946" y="256" width="3" height="10" fill="#26a69a"/>
<rect x="951" y="248" width="1" height="29" fill="#ef5350"/>
<rect x="950" y="256" width="3" height="2" fill="#ef5350"/>
<rect x="956" y="252" width="1" height="36" fill="#ef5350"/>
<rect x="955" y="257" width="3" height="4" fill="#ef5350"/>
<rect x="960" y="255" width="1" height="11" fill="#ef5350"/>
<rect x="959" y="260" width="3" height="3" fill="#ef5350"/>
<rect x="964" y="231" width="1" height="37" fill="#26a69a"/>
<rect x="963" y="235" width="3" height="28" fill="#26a69a"/>
<rect x="969" y="194" width="1" height="53" fill="#26a69a"/>
<rect x="968" y="208" width="3" height="29" fill="#26a69a"/>
<rect x="973" y="178" width="1" height="36" fill="#26a69a"/>
<rect x="972" y="182" width="3" height="26" fill="#26a69a"/>
<rect x="977" y="141" width="1" height="44" fill="#26a69a"/>
<rect x="976" y="150" width="3" height="33" fill="#26a69a"/>
<rect x="982" y="148" width="1" height="41" fill="#ef5350"/>
<rect x="981" y="150" width="3" height="30" fill="#ef5350"/>
<rect x="986" y="155" width="1" height="25" fill="#26a69a"/>
<rect x="985" y="167" width="3" height="13" fill="#26a69a"/>
<rect x="990" y="159" width="1" height="21" fill="#26a69a"/>
<rect x="989" y="162" width="3" height="7" fill="#26a69a"/>
<rect x="995" y="154" width="1" height="19" fill="#ef5350"/>
<rect x="994" y="162" width="3" height="3" fill="#ef5350"/>
<rect x="999" y="159" width="1" height="24" fill="#ef5350"/>
<rect x="998" y="163" width="3" height="13" fill="#ef5350"/>
<rect x="1003" y="157" width="1" height="22" fill="#26a69a"/>
<rect x="1002" y="168" width="3" height="8" fill="#26a69a"/>
<rect x="1008" y="167" width="1" height="62" fill="#ef5350"/>
<rect x="1007" y="168" width="3" height="50" fill="#ef5350"/>
<rect x="1012" y="208" width="1" height="35" fill="#26a69a"/>
<rect x="1011" y="210" width="3" height="7" fill="#26a69a"/>
<rect x="1016" y="197" width="1" height="18" fill="#26a69a"/>
<rect x="1015" y="206" width="3" height="5" fill="#26a69a"/>
<rect x="1021" y="193" width="1" height="14" fill="#26a69a"/>
<rect x="1020" y="198" width="3" height="9" fill="#26a69a"/>
<rect x="1025" y="163" width="1" height="33" fill="#26a69a"/>
<rect x="1024" y="170" width="3" height="25" fill="#26a69a"/>
<rect x="1029" y="164" width="1" height="17" fill="#ef5350"/>
<rect x="1028" y="170" width="3" height="6" fill="#ef5350"/>
<rect x="1034" y="155" width="1" height="23" fill="#26a69a"/>
<rect x="1033" y="164" width="3" height="12" fill="#26a69a"/>
<rect x="1038" y="160" width="1" height="43" fill="#ef5350"/>
<rect x="1037" y="164" width="3" height="16" fill="#ef5350"/>
<rect x="1042" y="133" width="1" height="56" fill="#26a69a"/>
<rect x="1041" y="148" width="3" height="32" fill="#26a69a"/>
<rect x="1047" y="135" width="1" height="26" fill="#26a69a"/>
<rect x="1046" y="138" width="3" height="11" fill="#26a69a"/>
<rect x="1051" y="120" width="1" height="28" fill="#26a69a"/>
<rect x="1050" y="133" width="3" height="6" fill="#26a69a"/>
<rect x="1055" y="129" width="1" height="22" fill="#ef5350"/>
<rect x="1054" y="133" width="3" height="16" fill="#ef5350"/>
<rect x="1060" y="145" width="1" height="90" fill="#ef5350"/>
<rect x="1059" y="148" width="3" height="54" fill="#ef5350"/>
<rect x="1064" y="170" width="1" height="48" fill="#26a69a"/>
<rect x="1063" y="175" width="3" height="27" fill="#26a69a"/>
<rect x="1069" y="171" width="1" height="33" fill="#ef5350"/>
<rect x="1068" y="175" width="3" height="18" fill="#ef5350"/>
<rect x="1073" y="186" width="1" height="19" fill="#ef5350"/>
<rect x="1072" y="193" width="3" height="4" fill="#ef5350"/>
<rect x="1077" y="181" width="1" height="29" fill="#26a69a"/>
<rect x="1076" y="188" width="3" height="9" fill="#26a69a"/>
<rect x="1082" y="188" width="1" height="129" fill="#ef5350"/>
<rect x="1081" y="188" width="3" height="101" fill="#ef5350"/>
<rect x="1086" y="272" width="1" height="24" fill="#26a69a"/>
<rect x="1085" y="283" width="3" height="6" fill="#26a69a"/>
<rect x="1090" y="281" width="1" height="23" fill="#ef5350"/>
<rect x="1089" y="283" width="3" height="3" fill="#ef5350"/>
<rect x="1095" y="266" width="1" height="29" fill="#26a69a"/>
<rect x="1094" y="285" width="3" height="1" fill="#26a69a"/>
<rect x="1099" y="279" width="1" height="61" fill="#ef5350"/>
<rect x="1098" y="285" width="3" height="36" fill="#ef5350"/>
<rect x="1103" y="304" width="1" height="25" fill="#26a69a"/>
<rect x="1102" y="308" width="3" height="13" fill="#26a69a"/>
<rect x="1108" y="289" width="1" height="23" fill="#26a69a"/>
<rect x="1107" y="296" width="3" height="13" fill="#26a69a"/>
<rect x="1112" y="282" width="1" height="17" fill="#26a69a"/>
<rect x="1111" y="290" width="3" height="7" fill="#26a69a"/>
<rect x="1116" y="277" width="1" height="18" fill="#26a69a"/>
<rect x="1115" y="287" width="3" height="4" fill="#26a69a"/>
<rect x="1121" y="282" width="1" height="14" fill="#26a69a"/>
<rect x="1120" y="285" width="3" height="3" fill="#26a69a"/>
<rect x="1125" y="256" width="1" height="43" fill="#26a69a"/>
<rect x="1124" y="261" width="3" height="25" fill="#26a69a"/>
<rect x="1129" y="203" width="1" height="61" fill="#26a69a"/>
<rect x="1128" y="223" width="3" height="39" fill="#26a69a"/>
<rect x="1134" y="192" width="1" height="39" fill="#26a69a"/>
<rect x="1133" y="216" width="3" height="8" fill="#26a69a"/>
<rect x="1138" y="157" width="1" height="66" fill="#26a69a"/>
<rect x="1137" y="172" width="3" height="45" fill="#26a69a"/>
<rect x="1142" y="151" width="1" height="60" fill="#ef5350"/>
<rect x="1141" y="172" width="3" height="14" fill="#ef5350"/>
<rect x="1147" y="178" width="1" height="32" fill="#ef5350"/>
<rect x="1146" y="184" width="3" height="14" fill="#ef5350"/>
<rect x="1151" y="179" width="1" height="39" fill="#ef5350"/>
<rect x="1150" y="197" width="3" height="9" fill="#ef5350"/>
<rect x="1155" y="187" width="1" height="21" fill="#26a69a"/>
<rect x="1154" y="198" width="3" height="8" fill="#26a69a"/>
<rect x="1160" y="198" width="1" height="30" fill="#ef5350"/>
<rect x="1159" y="198" width="3" height="20" fill="#ef5350"/>
</g>
<line x1="838.2" y1="64.6" x2="1203.2" y2="155.9" stroke="#0b4a59" stroke-width="2.2" stroke-linecap="round"/>
<line x1="838.2" y1="280.4" x2="1203.2" y2="371.6" stroke="#0b4a59" stroke-width="2.2" stroke-linecap="round"/>
<path d="M963,45.5 H1052 a6,6 0 0 1 6,6 V72 a6,6 0 0 1 -6,6 H1015.5 L960.2,93.4 L998,78 H963 a6,6 0 0 1 -6,-6 V51.5 a6,6 0 0 1 6,-6 Z" fill="#fff" stroke="#a0252d" stroke-width="1.5" stroke-linejoin="round"/>
<text x="1007.5" y="64.8" font-size="12" fill="#a0252d" text-anchor="middle" textLength="79" lengthAdjust="spacingAndGlyphs">Resistance line</text>
<circle cx="1160.6" cy="544.5" r="9.7" fill="#fff" stroke="#9c27b0" stroke-width="1.2"/>
<path d="M1163.8,539.2 L1156.7,544.9 L1160.4,544.9 L1157.3,550 L1164.5,544.1 L1160.8,544.1 Z" fill="#9c27b0" stroke="#9c27b0" stroke-width="0.4" stroke-linejoin="round"/>
<g font-size="12.6" fill="#131722">
<text x="18" y="46.3" textLength="179.4" lengthAdjust="spacingAndGlyphs">Litecoin / TetherUS, 1D, BINANCE</text>
<text x="206" y="46.3" textLength="37.3" lengthAdjust="spacingAndGlyphs">O<tspan fill="#ef5350">88.06</tspan></text>
<text x="251" y="46.3" textLength="37.3" lengthAdjust="spacingAndGlyphs">H<tspan fill="#ef5350">88.10</tspan></text>
<text x="296" y="46.3" textLength="34.6" lengthAdjust="spacingAndGlyphs">L<tspan fill="#ef5350">84.37</tspan></text>
<text x="338.5" y="46.3" textLength="36.2" lengthAdjust="spacingAndGlyphs">C<tspan fill="#ef5350">85.73</tspan></text>
<text x="383" y="46.3" fill="#ef5350" textLength="77.5" lengthAdjust="spacingAndGlyphs">−2.34 (−2.66%)</text>
<text x="18" y="63.3" textLength="96.5" lengthAdjust="spacingAndGlyphs">EMA (20, close, 0)</text><text x="122" y="63.3" fill="#0c2d9b" textLength="29.5" lengthAdjust="spacingAndGlyphs">84.85</text>
<text x="18" y="80.3" textLength="90" lengthAdjust="spacingAndGlyphs">MA (50, close, 0)</text><text x="115.3" y="80.3" fill="#f23645" textLength="29.5" lengthAdjust="spacingAndGlyphs">86.22</text>
</g>
</g>
<g clip-path="url(#cr)">
<rect x="10" y="597" width="1269" height="119" fill="#7e57c2" fill-opacity="0.1"/>
<g stroke="#787b86" stroke-width="1" stroke-dasharray="5 6" shape-rendering="crispEdges"><line x1="10" x2="1279" y1="596.5" y2="596.5"/><line x1="10" x2="1279" y1="716.5" y2="716.5"/><line x1="10" x2="1279" y1="656.5" y2="656.5" stroke-opacity="0.5"/></g>
<path d="M10.5,664.4 L14.5,670.7 L18.5,671.1 L23.5,660.4 L27.5,670.7 L31.5,676.0 L36.5,674.0 L40.5,683.3 L44.5,681.1 L49.5,688.9 L53.5,675.6 L57.5,670.7 L62.5,670.2 L66.5,680.0 L70.5,675.6 L75.5,670.7 L79.5,662.2 L83.5,638.9 L88.5,657.8 L92.5,624.4 L96.5,621.1 L101.5,640.7 L105.5,638.9 L109.5,624.4 L114.5,638.2 L118.5,643.3 L122.5,642.2 L127.5,599.6 L131.5,594.4 L135.5,570.7 L140.5,567.3 L144.5,577.8 L148.5,587.1 L153.5,657.8 L157.5,688.9 L162.5,645.6 L166.5,642.2 L170.5,648.9 L175.5,658.9 L179.5,662.2 L183.5,656.0 L188.5,658.9 L192.5,636.7 L196.5,636.7 L201.5,631.1 L205.5,641.1 L209.5,646.2 L214.5,611.1 L218.5,590.7 L222.5,592.9 L227.5,615.6 L231.5,609.3 L235.5,617.3 L240.5,621.8 L244.5,615.6 L248.5,606.2 L253.5,614.4 L257.5,613.3 L261.5,622.2 L266.5,620.0 L270.5,608.4 L274.5,610.7 L279.5,629.3 L283.5,624.0 L287.5,635.6 L292.5,635.6 L296.5,634.9 L300.5,636.7 L305.5,630.7 L309.5,645.6 L313.5,666.7 L318.5,692.9 L322.5,697.8 L326.5,700.4 L331.5,703.8 L335.5,687.3 L339.5,688.2 L344.5,682.2 L348.5,684.9 L352.5,684.9 L357.5,658.9 L361.5,647.8 L365.5,663.3 L370.5,676.0 L374.5,673.3 L378.5,662.2 L383.5,648.9 L387.5,643.3 L392.5,622.7 L396.5,618.2 L400.5,619.3 L405.5,629.6 L409.5,620.0 L413.5,617.3 L418.5,606.7 L422.5,592.9 L426.5,600.4 L431.5,587.8 L435.5,581.1 L439.5,580.4 L444.5,574.9 L448.5,580.4 L452.5,595.6 L457.5,591.1 L461.5,630.7 L465.5,621.8 L470.5,597.3 L474.5,614.4 L478.5,616.7 L483.5,607.3 L487.5,626.7 L491.5,617.3 L496.5,629.6 L500.5,623.8 L504.5,619.6 L509.5,600.0 L513.5,623.3 L517.5,611.6 L522.5,594.0 L526.5,604.4 L530.5,601.1 L535.5,608.9 L539.5,621.1 L543.5,625.6 L548.5,607.8 L552.5,617.8 L556.5,653.8 L561.5,648.9 L565.5,644.4 L569.5,653.3 L574.5,660.0 L578.5,636.7 L582.5,615.6 L587.5,635.1 L591.5,630.0 L595.5,632.2 L600.5,641.9 L604.5,650.3 L608.5,658.7 L613.5,652.2 L617.5,656.3 L622.5,669.5 L626.5,659.9 L630.5,651.0 L635.5,657.0 L639.5,658.7 L643.5,638.7 L648.5,651.5 L652.5,673.1 L656.5,678.4 L661.5,675.6 L665.5,685.7 L669.5,690.5 L674.5,703.2 L678.5,721.3 L682.5,732.9 L687.5,736.2 L691.5,697.2 L695.5,674.4 L700.5,665.9 L704.5,687.6 L708.5,677.5 L713.5,655.8 L717.5,663.0 L721.5,659.9 L726.5,677.2 L730.5,661.1 L734.5,645.5 L739.5,631.0 L743.5,631.3 L747.5,638.2 L752.5,633.7 L756.5,648.4 L760.5,648.6 L765.5,641.9 L769.5,650.3 L773.5,647.9 L778.5,637.8 L782.5,637.0 L786.5,636.3 L791.5,638.2 L795.5,638.2 L799.5,647.4 L804.5,649.6 L808.5,653.2 L812.5,649.6 L817.5,632.2 L821.5,630.3 L825.5,645.0 L830.5,634.6 L834.5,623.8 L838.5,622.1 L843.5,607.2 L847.5,616.6 L852.5,603.8 L856.5,666.4 L860.5,667.9 L865.5,686.4 L869.5,677.5 L873.5,678.4 L878.5,670.7 L882.5,657.0 L886.5,669.5 L891.5,662.3 L895.5,662.3 L899.5,655.1 L904.5,668.3 L908.5,675.6 L912.5,667.1 L917.5,663.5 L921.5,665.9 L925.5,664.7 L930.5,690.7 L934.5,690.0 L938.5,711.7 L943.5,697.2 L947.5,690.0 L951.5,690.5 L956.5,692.4 L960.5,693.1 L964.5,669.5 L969.5,651.5 L973.5,633.4 L977.5,616.6 L982.5,637.5 L986.5,631.7 L990.5,628.6 L995.5,630.5 L999.5,639.4 L1003.5,635.1 L1008.5,668.8 L1012.5,664.7 L1016.5,661.1 L1021.5,652.7 L1025.5,637.0 L1029.5,641.1 L1034.5,633.9 L1038.5,645.9 L1042.5,626.9 L1047.5,621.4 L1051.5,618.5 L1055.5,631.5 L1060.5,669.5 L1064.5,652.2 L1069.5,662.3 L1073.5,664.7 L1077.5,659.9 L1082.5,706.4 L1086.5,703.2 L1090.5,703.7 L1095.5,703.7 L1099.5,717.2 L1103.5,706.9 L1108.5,698.4 L1112.5,693.1 L1116.5,690.7 L1121.5,688.8 L1125.5,670.7 L1129.5,644.3 L1134.5,640.2 L1138.5,618.3 L1142.5,628.6 L1147.5,635.8 L1151.5,641.9 L1155.5,637.5 L1160.5,651.5" fill="none" stroke="#7e57c2" stroke-width="1.8" stroke-linejoin="round"/>
<g font-size="12.6" fill="#131722"><text x="18" y="577" textLength="76" lengthAdjust="spacingAndGlyphs">RSI (14, close)</text><text x="101.8" y="577" fill="#7e57c2" textLength="29.5" lengthAdjust="spacingAndGlyphs">51.49</text></g>
</g>
<g clip-path="url(#ca)" font-size="11.75" fill="#131722">
<text x="1287" y="530.3">48.00</text>
<text x="1287" y="497.6">52.00</text>
<text x="1287" y="464.9">56.00</text>
<text x="1287" y="432.2">60.00</text>
<text x="1287" y="399.5">64.00</text>
<text x="1287" y="366.7">68.00</text>
<text x="1287" y="334.0">72.00</text>
<text x="1287" y="301.3">76.00</text>
<text x="1287" y="268.6">80.00</text>
<text x="1287" y="235.9">84.00</text>
<text x="1287" y="203.2">88.00</text>
<text x="1287" y="170.4">92.00</text>
<text x="1287" y="137.7">96.00</text>
<text x="1287" y="105.0">100.00</text>
<text x="1287" y="72.3">104.00</text>
<text x="1287" y="39.6">108.00</text>
<text x="1287" y="6.9">112.00</text>
<rect x="1283" y="31" width="56" height="25" rx="4" fill="#fff" stroke="#eceef3" stroke-width="1.4"/>
<text x="1286.2" y="47.2" font-size="12.2" textLength="26.6" lengthAdjust="spacingAndGlyphs">USDT</text>
</g>
<g clip-path="url(#cb)" font-size="11.75" fill="#131722">
<text x="1287" y="570.7">80.00</text>
<text x="1287" y="630.4">60.00</text>
<text x="1287" y="690.1">40.00</text>
<text x="1287" y="749.8">20.00</text>
</g>
<g font-size="12.2" fill="#fff">
<rect x="1253" y="192" width="25.5" height="16.5" rx="2" fill="#f23645"/><rect x="1279.5" y="192" width="42.5" height="16.5" rx="2" fill="#f23645"/>
<text x="1257.2" y="204.8" textLength="16.4" lengthAdjust="spacingAndGlyphs">MA</text>
<text x="1287.1" y="204.8" textLength="29.2" lengthAdjust="spacingAndGlyphs">86.22</text>
<rect x="1222" y="209" width="56.5" height="16.5" rx="2" fill="#ef5350"/><rect x="1279.5" y="209" width="59.5" height="44.5" rx="2" fill="#ef5350"/>
<text x="1226.4" y="221.8" textLength="45.2" lengthAdjust="spacingAndGlyphs">LTCUSDT</text>
<text x="1287.1" y="221.8" textLength="29.2" lengthAdjust="spacingAndGlyphs">85.73</text>
<text x="1287.1" y="235.8" textLength="42.7" lengthAdjust="spacingAndGlyphs">+56.96%</text>
<text x="1287.1" y="249.8" textLength="46.2" lengthAdjust="spacingAndGlyphs" fill-opacity="0.75">08:08:18</text>
<rect x="1246" y="254" width="32.5" height="16.5" rx="2" fill="#0c2d9b"/><rect x="1279.5" y="254" width="42.5" height="16.5" rx="2" fill="#0c2d9b"/>
<text x="1251.2" y="266.8" textLength="22.4" lengthAdjust="spacingAndGlyphs">EMA</text>
<text x="1287.1" y="266.8" textLength="29.2" lengthAdjust="spacingAndGlyphs">84.85</text>
<rect x="1252.5" y="643.5" width="26" height="16.5" rx="2" fill="#7e57c2"/><rect x="1279.5" y="643.5" width="42.5" height="16.5" rx="2" fill="#7e57c2"/>
<text x="1257.5" y="656.3" textLength="14.8" lengthAdjust="spacingAndGlyphs">RSI</text>
<text x="1287.1" y="656.3" textLength="29.2" lengthAdjust="spacingAndGlyphs">51.49</text>
</g>
<g font-size="11.8" fill="#131722" text-anchor="middle">
<text x="122.5" y="765">Nov</text>
<text x="253.5" y="765">Dec</text>
<text x="387.5" y="765" font-weight="bold">2023</text>
<text x="522.5" y="765">Feb</text>
<text x="643.5" y="765">Mar</text>
<text x="778.5" y="765">Apr</text>
<text x="908.5" y="765">May</text>
<text x="1042.5" y="765">Jun</text>
<text x="1173.5" y="765">Jul</text>
<text x="1272.5" y="765" >24</text>
</g>
<g fill="#131722"><path d="M10,787.3 h7.6 v9.6 h-3.8 v-5.8 h-3.8 z"/><circle cx="20.2" cy="789.2" r="1.9"/><path d="M24.6,787.3 h5 l-4.1,9.6 h-5 z"/></g>
<text x="34" y="797" font-size="13.6" fill="#131722" textLength="69" lengthAdjust="spacingAndGlyphs">TradingView</text>
</svg></body></html>
